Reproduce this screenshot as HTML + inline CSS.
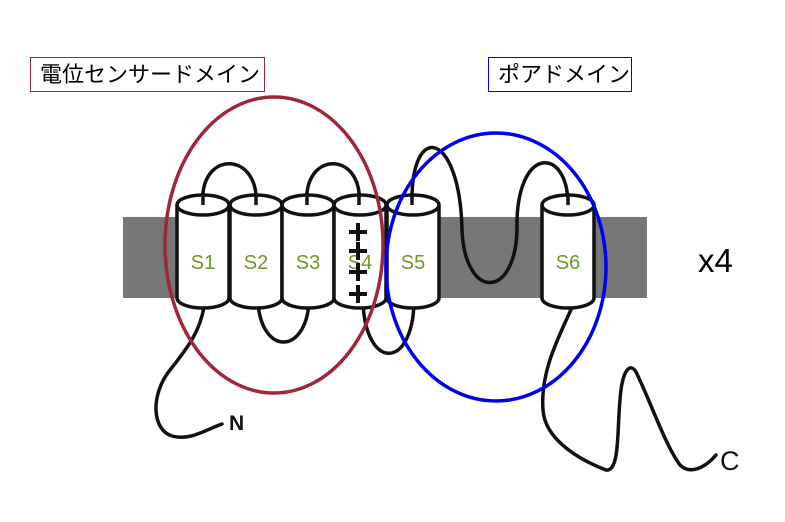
<!DOCTYPE html>
<html><head><meta charset="utf-8"><style>
body{margin:0;background:#fff;}
.lb{position:absolute;top:57px;height:35px;box-sizing:border-box;background:#fff;font-family:"Liberation Sans","Noto Sans CJK JP",sans-serif;font-size:22px;line-height:33px;color:#000;padding-left:9px;white-space:nowrap;overflow:hidden}
</style></head><body>
<div style="position:relative;width:785px;height:522px;overflow:hidden">
<svg width="785" height="522" style="position:absolute;left:0;top:0" font-family="Liberation Sans, sans-serif">
<rect x="123" y="217" width="524" height="81" fill="#777"/>
<g fill="none" stroke="#111" stroke-width="3.5" stroke-linecap="round">
<path d="M203,205 C198,150 260,150 256,205"/>
<path d="M307,205 C302,150 364,150 359,205"/>
<path d="M412,205 C410,120 460,130 462,230 C465,300 515,300 517,230 C515,145 568,145 568,205"/>
<path d="M258,303 C262,355 305,355 309,303"/>
<path d="M363,303 C366,370 412,370 414,303"/>
<path d="M204,307 C200,330 190,345 170,370 C150,395 152,430 172,436 C190,441 205,430 222,424"/>
<path d="M573,305 C560,335 540,370 543,410 C545,440 580,460 606,470 C620,472 617,430 620,400 C622,370 630,362 636,372 C650,400 665,445 680,465 C690,475 705,468 716,455"/>
</g>
<g fill="#fff" stroke="#111" stroke-width="3.5">
<path d="M177,205 L177,298 A26,10 0 0 0 229,298 L229,205"/><ellipse cx="203" cy="205" rx="26" ry="10"/>
<path d="M230,205 L230,298 A26,10 0 0 0 282,298 L282,205"/><ellipse cx="256" cy="205" rx="26" ry="10"/>
<path d="M282,205 L282,298 A26,10 0 0 0 334,298 L334,205"/><ellipse cx="308" cy="205" rx="26" ry="10"/>
<path d="M334,205 L334,298 A26,10 0 0 0 386,298 L386,205"/><ellipse cx="360" cy="205" rx="26" ry="10"/>
<path d="M387,205 L387,298 A26,10 0 0 0 439,298 L439,205"/><ellipse cx="413" cy="205" rx="26" ry="10"/>
<path d="M542,205 L542,298 A26,10 0 0 0 594,298 L594,205"/><ellipse cx="568" cy="205" rx="26" ry="10"/>
</g>
<g stroke="#111" stroke-width="3.5" fill="none">
<line x1="203" y1="205" x2="203" y2="193"/><line x1="256" y1="205" x2="256" y2="193"/>
<line x1="307" y1="205" x2="307" y2="193"/><line x1="359" y1="205" x2="359" y2="193"/>
<line x1="412" y1="205" x2="412" y2="193"/><line x1="568" y1="205" x2="568" y2="193"/>
</g>
<g fill="#6b9a2a" font-size="20" text-anchor="middle">
<text x="203" y="269">S1</text><text x="256" y="269">S2</text><text x="308" y="269">S3</text>
<text x="360" y="269">S4</text><text x="413" y="269">S5</text><text x="568" y="269">S6</text>
</g>
<g stroke="#111" stroke-width="4">
<path d="M349,232 H367 M358,223 V241"/>
<path d="M349,251 H367 M358,242 V260"/>
<path d="M349,272 H367 M358,263 V281"/>
<path d="M349,294 H367 M358,285 V303"/>
</g>
<ellipse cx="274" cy="245" rx="109" ry="148" fill="none" stroke="#a0273a" stroke-width="3.5"/>
<ellipse cx="496" cy="267" rx="110" ry="134" fill="none" stroke="#0000ee" stroke-width="3.5"/>
<text x="229" y="430" font-size="21" font-weight="bold" fill="#111">N</text>
<text x="720" y="470" font-size="27" fill="#111">C</text>
<text x="698" y="272" font-size="33" fill="#000">x4</text>
</svg>
<div class="lb" style="left:30px;width:235px;border:1px solid #a0273a">電位センサードメイン</div>
<div class="lb" style="left:488px;width:144px;border:1px solid #0000ee">ポアドメイン</div>
</div>
</body></html>
